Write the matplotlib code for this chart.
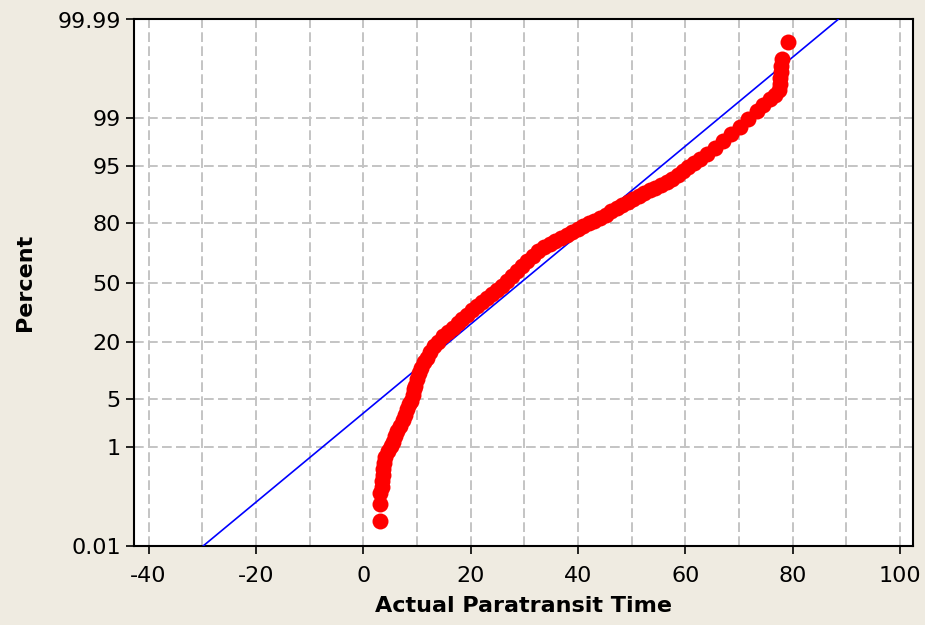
import numpy as np
import matplotlib
matplotlib.use("Agg")
import matplotlib.pyplot as plt
from matplotlib.ticker import MultipleLocator
from statistics import NormalDist

plt.rcParams['font.family'] = 'DejaVu Sans'
plt.rcParams['axes.unicode_minus'] = False

# sorted times, with their plotted percent
times = [3.2, 3.2, 3.2, 3.5, 3.5, 3.7, 3.7, 3.9, 4.1,
         4.6, 5.2, 5.6, 5.9, 6.3, 6.9, 7.4, 7.8, 8.2, 8.5, 8.9, 9.3, 9.5, 9.7,
         10.0, 10.4, 10.8, 11.3, 11.9, 12.5, 13.2, 13.9, 14.9, 15.8, 16.7, 17.7,
         18.4, 19.3, 20.3, 21.2, 22.1, 23.1, 24.0, 24.9, 25.9,
         26.8, 27.7, 28.7, 29.6, 30.5, 31.6, 32.6, 33.7, 34.8, 35.7, 36.8, 38.0,
         38.9, 40.0, 40.9, 42.1, 43.0, 44.1, 45.2, 46.2, 47.3, 48.2, 49.3, 50.3,
         51.4, 52.3, 53.4, 54.4, 55.5, 56.6, 57.5, 58.6, 59.6, 60.5, 61.6, 62.7,
         64.1, 65.5, 67.0, 68.5, 70.2, 71.7, 73.4, 74.5, 75.8, 76.7, 77.5, 77.7,
         77.7, 77.8, 77.8, 78.0, 79.1]
percent = [0.0376, 0.088, 0.148, 0.195, 0.253, 0.33, 0.42, 0.54, 0.68,
           0.87, 1.04, 1.21, 1.50, 1.79, 2.13, 2.6, 3.05, 3.7, 4.3, 4.8, 5.7, 6.6, 7.3,
           8.6, 10.0, 11.3, 13.0, 14.5, 16.5, 18.4, 20.3, 22.8, 24.5, 26.3, 28.7,
           30.6, 32.6, 35.2, 37.3, 39.4, 41.6, 43.8, 46.1, 48.3,
           51.1, 53.9, 56.7, 59.5, 62.2, 64.8, 67.4, 69.4, 70.9, 72.3, 73.7, 75.1,
           76.4, 77.7, 78.9, 80.1, 80.9, 82.0, 83.1, 84.5, 85.5, 86.4, 87.3, 88.2,
           89.0, 89.8, 90.5, 90.96, 91.6, 92.3, 92.85, 93.6, 94.26, 94.9, 95.45, 95.96,
           96.54, 97.14, 97.72, 98.21, 98.60, 98.96, 99.23, 99.39, 99.52, 99.595, 99.67, 99.75,
           99.805, 99.852, 99.888, 99.920, 99.967]

# fitted normal line
fit_mean = 29.3
fit_sd = 15.9

prob_ticks = [0.01, 1, 5, 20, 50, 80, 95, 99, 99.99]
prob_labels = ['0.01', '1', '5', '20', '50', '80', '95', '99', '99.99']
x_ticks = [-40, -20, 0, 20, 40, 60, 80, 100]

nd = NormalDist()


def zval(p):
    return np.array([nd.inv_cdf(v / 100.0) for v in p])


bg = '#EFEBE1'
fig = plt.figure(figsize=(9.25, 6.25), dpi=100, facecolor=bg)
ax = fig.add_axes([0.1449, 0.1264, 0.8422, 0.8424])
ax.set_facecolor('white')

zlim = zval([0.01, 99.99])
ax.plot(fit_mean + fit_sd * zlim, zlim, color='#0000FF', lw=1.2, zorder=3)
ax.plot(times, zval(percent), 'o', color='#FF0000', ms=11.5, mew=0, zorder=4)

ax.set_xlim(-42.7, 102.4)
ax.set_ylim(zlim[0], zlim[1])
ax.set_xticks(x_ticks)
ax.xaxis.set_minor_locator(MultipleLocator(10))
ax.set_yticks(zval(prob_ticks))
ax.set_yticklabels(prob_labels)

gkw = dict(color='#C4C4C4', lw=1.4, linestyle=(0, (5, 2.2)))
ax.grid(True, which='both', axis='x', **gkw)
ax.grid(True, which='major', axis='y', **gkw)

ax.tick_params(axis='both', which='major', direction='out', length=5.5, width=1.2,
               labelsize=16, pad=4, color='black')
ax.tick_params(axis='x', which='major', pad=9)
ax.tick_params(axis='x', which='minor', length=0)
for s in ax.spines.values():
    s.set_linewidth(1.5)
    s.set_color('black')

ax.set_xlabel('Actual Paratransit Time', fontsize=16, fontweight='bold', labelpad=7)
ax.set_ylabel('Percent', fontsize=16, fontweight='bold', labelpad=16)

fig.savefig('out.png', dpi=100, facecolor=bg)
